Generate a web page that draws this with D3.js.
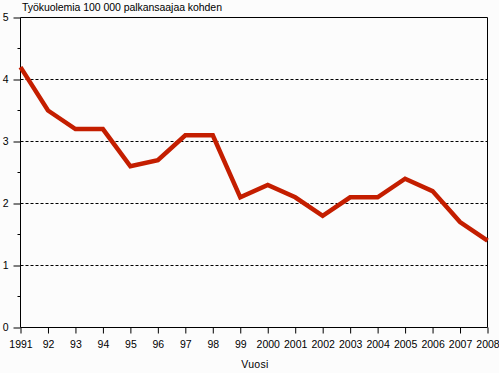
<!DOCTYPE html>
<html><head><meta charset="utf-8">
<script src="https://cdn.jsdelivr.net/npm/d3@7"></script>
<style>
html,body{margin:0;padding:0;background:#fcfcfc;}
svg{display:block;}
text{font-family:"Liberation Sans",Arial,sans-serif;fill:#000;}
</style></head>
<body>
<svg id="c" width="499" height="373"></svg>
<script>
const years = ["1991","92","93","94","95","96","97","98","99","2000","2001","2002","2003","2004","2005","2006","2007","2008"];
const values = [4.2,3.5,3.2,3.2,2.6,2.7,3.1,3.1,2.1,2.3,2.1,1.8,2.1,2.1,2.4,2.2,1.7,1.4];
const yTicks = [0,1,2,3,4,5];
const yMinor = [0.5,1.5,2.5,3.5,4.5];
const title = "Työkuolemia 100 000 palkansaajaa kohden";
const xTitle = "Vuosi";

const svg = d3.select("#c");
const L = 20.5, R = 487.5, T = 17.5, B = 327.5;
const x = d3.scalePoint().domain(years).range([L, R]);
const y = d3.scaleLinear().domain([0,5]).range([B, T]);

// gridlines
svg.append("g").selectAll("line").data(yTicks.filter(d=>d>0 && d<5)).join("line")
  .attr("x1", L).attr("x2", R).attr("y1", d=>y(d)).attr("y2", d=>y(d))
  .attr("stroke","#000").attr("stroke-width",1).attr("stroke-dasharray","3,2");

// frame top & right
svg.append("line").attr("x1",L).attr("x2",R).attr("y1",T).attr("y2",T).attr("stroke","#000");
svg.append("line").attr("x1",R).attr("x2",R).attr("y1",T).attr("y2",B).attr("stroke","#000");

// y axis
const yAxis = svg.append("g").attr("transform",`translate(${L},0)`)
  .call(d3.axisLeft(y).tickValues(yTicks).tickSize(7).tickPadding(5).tickFormat(d3.format("d")));
yAxis.select(".domain").attr("d",`M0,${T}V${B}`).attr("stroke","#000");
yAxis.selectAll("text").style("font-size","10.5px").attr("x",-12);
svg.append("g").selectAll("line").data(yMinor).join("line")
  .attr("x1",L-3).attr("x2",L).attr("y1",d=>y(d)).attr("y2",d=>y(d)).attr("stroke","#000");

// x axis
const xAxis = svg.append("g").attr("transform",`translate(0,${B})`)
  .call(d3.axisBottom(x).tickSize(6).tickPadding(7));
xAxis.select(".domain").attr("d",`M${L},0H${R}`).attr("stroke","#000");
xAxis.selectAll("text").style("font-size","10.5px");

// line
const line = d3.line().x((d,i)=>x(years[i])).y(d=>y(d));
svg.append("path").datum(values).attr("d",line)
  .attr("fill","none").attr("stroke","#c41e00").attr("stroke-width",4.5)
  .attr("stroke-linejoin","miter").attr("stroke-linecap","butt");

// titles
const t = svg.append("text").attr("x",22).attr("y",10.5).style("font-size","10.5px").text(title);
t.attr("textLength",200).attr("lengthAdjust","spacing");
svg.append("text").attr("x",255).attr("y",368).attr("text-anchor","middle").style("font-size","10.5px").style("letter-spacing","0.3px").text(xTitle);
</script>
</body></html>
